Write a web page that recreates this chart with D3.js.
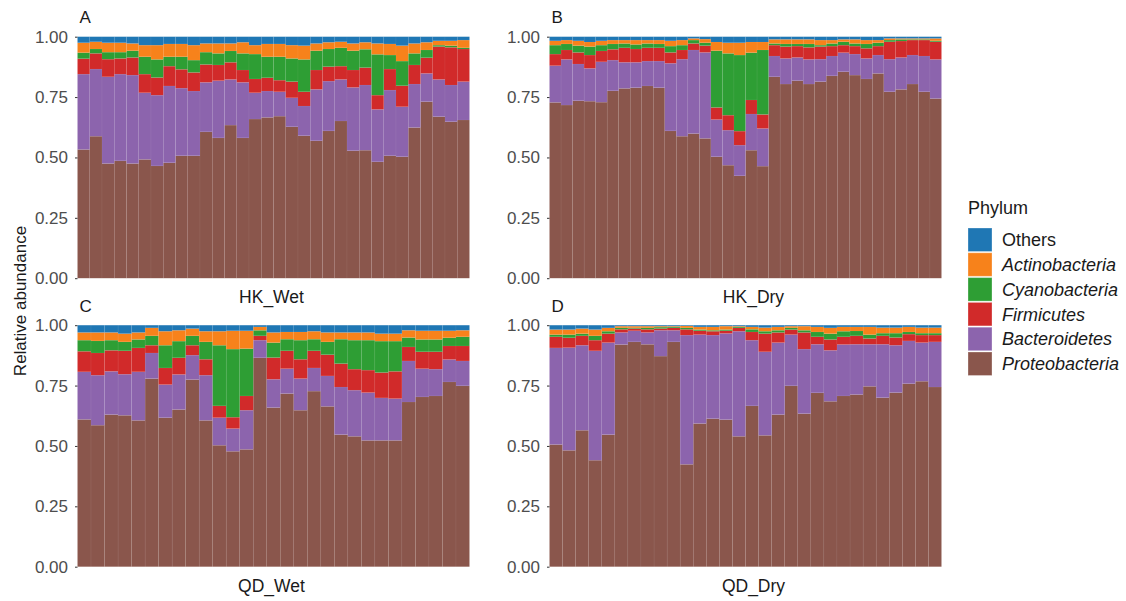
<!DOCTYPE html>
<html lang="en">
<head>
<meta charset="UTF-8">
<title>Relative abundance by phylum</title>
<script src="https://d3js.org/d3.v7.min.js"></script>
<style>
  body { margin: 0; background: white; font-family: "Liberation Sans", Arial, sans-serif; }
  .tick text { fill: #4d4d4d; font-size: 17px; font-family: "Liberation Sans", Arial, sans-serif; }
  .tick line { stroke: #333; }
  .strip { fill: #1a1a1a; font-size: 17.5px; }
  .tag { fill: #1a1a1a; font-size: 17px; }
  .axis-title { fill: #1a1a1a; font-size: 17px; }
  .legend text { fill: #1a1a1a; font-size: 18px; }
</style>
</head>
<body>
<svg id="chart" width="1126" height="601"></svg>
<script>
// Phyla, bottom of the stack first
const phyla = ["Proteobacteria", "Bacteroidetes", "Firmicutes", "Cyanobacteria", "Actinobacteria", "Others"];
const legendOrder = ["Others", "Actinobacteria", "Cyanobacteria", "Firmicutes", "Bacteroidetes", "Proteobacteria"];
const yTicks = [0, 0.25, 0.5, 0.75, 1];

// HK_Wet (32 samples)
const hkWetProteo = [.533,.588,.475,.486,.475,.492,.465,.478,.507,.507,.606,.581,.634,.581,.659,.666,.671,.627,.590,.569,.610,.651,.528,.530,.482,.507,.503,.624,.731,.669,.648,.655];
const hkWetBactero = [.312,.278,.359,.359,.366,.276,.293,.318,.280,.268,.205,.237,.189,.230,.109,.109,.101,.120,.123,.213,.206,.172,.262,.270,.217,.272,.207,.180,.117,.154,.152,.159];
const hkWetFirmi = [.064,.065,.073,.065,.073,.077,.073,.082,.078,.077,.074,.065,.071,.051,.057,.055,.048,.067,.059,.080,.060,.055,.072,.072,.059,.087,.087,.079,.065,.136,.156,.135];
const hkWetCyano = [.025,.018,.029,.026,.028,.072,.075,.039,.052,.051,.051,.048,.047,.069,.103,.087,.097,.096,.134,.080,.073,.076,.080,.076,.169,.058,.102,.048,.032,.006,.007,.005];
const hkWetActino = [.041,.030,.039,.039,.030,.048,.059,.053,.053,.062,.036,.041,.031,.046,.037,.053,.053,.055,.057,.030,.028,.025,.030,.029,.045,.046,.064,.041,.032,.018,.020,.032];
const hkWetOthers = [.025,.021,.025,.025,.028,.035,.035,.030,.030,.035,.028,.028,.028,.023,.035,.030,.030,.035,.037,.028,.023,.021,.028,.023,.028,.030,.037,.028,.023,.017,.017,.014];

// HK_Dry (34 samples)
const hkDryProteo = [.728,.717,.735,.733,.729,.776,.786,.789,.796,.789,.610,.588,.599,.579,.503,.468,.424,.530,.464,.834,.804,.818,.804,.814,.838,.855,.841,.825,.848,.772,.782,.804,.772,.744];
const hkDryBactero = [.152,.189,.152,.136,.167,.127,.108,.105,.103,.110,.280,.319,.346,.356,.154,.145,.127,.150,.156,.086,.106,.096,.102,.093,.082,.079,.087,.085,.076,.135,.132,.120,.148,.162];
const hkDryFirmi = [.048,.039,.048,.055,.045,.045,.060,.055,.055,.055,.045,.038,.027,.028,.050,.062,.058,.058,.058,.045,.049,.047,.050,.052,.041,.031,.033,.042,.037,.072,.068,.062,.066,.073];
const hkDryCyano = [.037,.025,.028,.035,.024,.022,.018,.019,.018,.016,.026,.020,.014,.012,.235,.256,.315,.196,.267,.007,.011,.009,.014,.006,.011,.014,.011,.018,.014,.007,.007,.003,.003,.004];
const hkDryActino = [.018,.016,.020,.019,.018,.016,.014,.018,.014,.016,.022,.021,.007,.015,.036,.044,.051,.044,.033,.017,.019,.019,.019,.021,.014,.010,.017,.016,.011,.007,.004,.004,.004,.010];
const hkDryOthers = [.017,.014,.017,.022,.017,.014,.014,.014,.014,.014,.017,.014,.007,.010,.022,.025,.025,.022,.022,.011,.011,.011,.011,.014,.014,.011,.011,.014,.014,.007,.007,.007,.007,.007];

// QD_Wet (29 samples)
const qdWetProteo = [.610,.586,.630,.627,.606,.779,.617,.651,.775,.606,.503,.478,.486,.865,.659,.717,.648,.727,.664,.547,.540,.523,.523,.523,.682,.703,.707,.765,.749];
const qdWetBactero = [.197,.207,.179,.170,.201,.106,.137,.145,.101,.187,.114,.094,.162,.073,.117,.103,.131,.096,.126,.197,.191,.198,.176,.173,.170,.117,.111,.093,.103];
const qdWetFirmi = [.085,.092,.087,.097,.099,.032,.069,.069,.041,.066,.049,.047,.059,.018,.090,.074,.080,.071,.088,.097,.087,.093,.105,.113,.058,.070,.072,.056,.062];
const qdWetCyano = [.046,.050,.042,.037,.035,.039,.094,.069,.039,.072,.251,.282,.196,.023,.062,.048,.079,.048,.053,.101,.120,.124,.130,.125,.039,.051,.051,.034,.038];
const qdWetActino = [.032,.035,.032,.034,.029,.033,.058,.045,.030,.044,.058,.076,.074,.014,.042,.030,.034,.033,.039,.028,.032,.032,.031,.031,.030,.036,.036,.029,.027];
const qdWetOthers = [.030,.030,.030,.035,.030,.011,.025,.021,.014,.025,.025,.023,.023,.007,.030,.028,.028,.025,.030,.030,.030,.030,.035,.035,.021,.023,.023,.023,.021];

// QD_Dry (30 samples)
const qdDryProteo = [.506,.482,.565,.441,.547,.920,.931,.921,.872,.931,.424,.593,.613,.609,.540,.666,.544,.630,.749,.634,.720,.685,.707,.713,.747,.700,.721,.758,.768,.744];
const qdDryBactero = [.400,.425,.352,.453,.381,.050,.046,.049,.107,.048,.535,.368,.346,.357,.435,.272,.346,.298,.212,.267,.201,.211,.213,.208,.174,.221,.196,.177,.160,.187];
const qdDryFirmi = [.046,.041,.039,.044,.037,.013,.009,.013,.007,.010,.024,.016,.016,.011,.014,.034,.075,.042,.021,.069,.031,.045,.032,.035,.024,.035,.032,.028,.031,.028];
const qdDryCyano = [.009,.013,.009,.018,.010,.006,.003,.006,.006,.004,.006,.005,.004,.005,.004,.011,.010,.009,.007,.009,.020,.024,.023,.020,.016,.011,.018,.009,.008,.008];
const qdDryActino = [.021,.021,.021,.026,.014,.007,.007,.007,.004,.003,.008,.011,.014,.014,.003,.010,.015,.014,.007,.017,.021,.024,.018,.017,.032,.023,.023,.021,.023,.023];
const qdDryOthers = [.018,.018,.014,.018,.011,.004,.004,.004,.004,.004,.003,.007,.007,.004,.004,.007,.010,.007,.004,.004,.007,.011,.007,.007,.007,.010,.010,.007,.010,.010];

const color = d3.scaleOrdinal()
    .domain(legendOrder)
    .range(["#1f77b4", "#f7821b", "#2e9e34", "#d12a2a", "#8c64ad", "#8a564c"]);

// Build per-panel tables
function table(series) {
    const n = series.Proteobacteria.length;
    return d3.range(n).map(i => {
        const row = { id: "s" + (i + 1) };
        phyla.forEach(p => row[p] = series[p][i]);
        return row;
    });
}

const panels = [
    { tag: "A", name: "HK_Wet", col: 0, row: 0, rows: table({ Proteobacteria: hkWetProteo, Bacteroidetes: hkWetBactero, Firmicutes: hkWetFirmi, Cyanobacteria: hkWetCyano, Actinobacteria: hkWetActino, Others: hkWetOthers }) },
    { tag: "B", name: "HK_Dry", col: 1, row: 0, rows: table({ Proteobacteria: hkDryProteo, Bacteroidetes: hkDryBactero, Firmicutes: hkDryFirmi, Cyanobacteria: hkDryCyano, Actinobacteria: hkDryActino, Others: hkDryOthers }) },
    { tag: "C", name: "QD_Wet", col: 0, row: 1, rows: table({ Proteobacteria: qdWetProteo, Bacteroidetes: qdWetBactero, Firmicutes: qdWetFirmi, Cyanobacteria: qdWetCyano, Actinobacteria: qdWetActino, Others: qdWetOthers }) },
    { tag: "D", name: "QD_Dry", col: 1, row: 1, rows: table({ Proteobacteria: qdDryProteo, Bacteroidetes: qdDryBactero, Firmicutes: qdDryFirmi, Cyanobacteria: qdDryCyano, Actinobacteria: qdDryActino, Others: qdDryOthers }) }
];

const svg = d3.select("#chart");
const panelW = 392, panelH = 241.5;
const colX = [77.5, 549.5];
const rowY = [36.7, 325.2];
const stack = d3.stack().keys(phyla);

panels.forEach(p => {
    const left = colX[p.col], top = rowY[p.row];
    const g = svg.append("g").attr("transform", `translate(${left},${top})`);

    const x = d3.scaleBand()
        .domain(p.rows.map(d => d.id))
        .range([0, panelW])
        .padding(0);

    const y = d3.scaleLinear()
        .domain([0, 1])
        .range([panelH, 0]);

    const layers = stack(p.rows);

    g.selectAll("g.layer")
        .data(layers)
        .enter().append("g")
        .attr("class", "layer")
        .attr("fill", d => color(d.key))
        .selectAll("rect")
        .data(d => d)
        .enter().append("rect")
        .attr("x", d => x(d.data.id))
        .attr("width", x.bandwidth())
        .attr("y", d => y(d[1]))
        .attr("height", d => y(d[0]) - y(d[1]))
        .attr("stroke", "#ffffff")
        .attr("stroke-opacity", 0.07)
        .attr("stroke-width", 0.6);

    // y axis
    const ax = g.append("g")
        .call(d3.axisLeft(y)
            .tickValues(yTicks)
            .tickFormat(d3.format(".2f"))
            .tickSize(2.5)
            .tickPadding(7));
    ax.select(".domain").remove();

    // panel tag and strip label
    svg.append("text")
        .attr("class", "tag")
        .attr("x", left + 2)
        .attr("y", top - 13.5)
        .text(p.tag);

    svg.append("text")
        .attr("class", "strip")
        .attr("text-anchor", "middle")
        .attr("x", left + panelW / 2 + (p.col === 1 ? 8 : -2))
        .attr("y", top + panelH + 25)
        .text(p.name);
});

// y axis title
svg.append("text")
    .attr("class", "axis-title")
    .attr("transform", "rotate(-90)")
    .attr("x", -301)
    .attr("y", 26)
    .attr("text-anchor", "middle")
    .text("Relative abundance");

// legend
const legend = svg.append("g")
    .attr("class", "legend")
    .attr("transform", "translate(968,0)");

legend.append("text")
    .attr("x", 0)
    .attr("y", 214)
    .text("Phylum");

const item = legend.selectAll("g.item")
    .data(legendOrder)
    .enter().append("g")
    .attr("class", "item")
    .attr("transform", (d, i) => `translate(0,${228 + i * 24.8})`);

item.append("rect")
    .attr("width", 24)
    .attr("height", 23.5)
    .attr("fill", d => color(d))
    .attr("stroke", "#ffffff")
    .attr("stroke-opacity", 0.3);

item.append("text")
    .attr("x", 34)
    .attr("y", 12)
    .attr("dy", "0.35em")
    .style("font-style", d => d === "Others" ? "normal" : "italic")
    .text(d => d);
</script>
</body>
</html>
